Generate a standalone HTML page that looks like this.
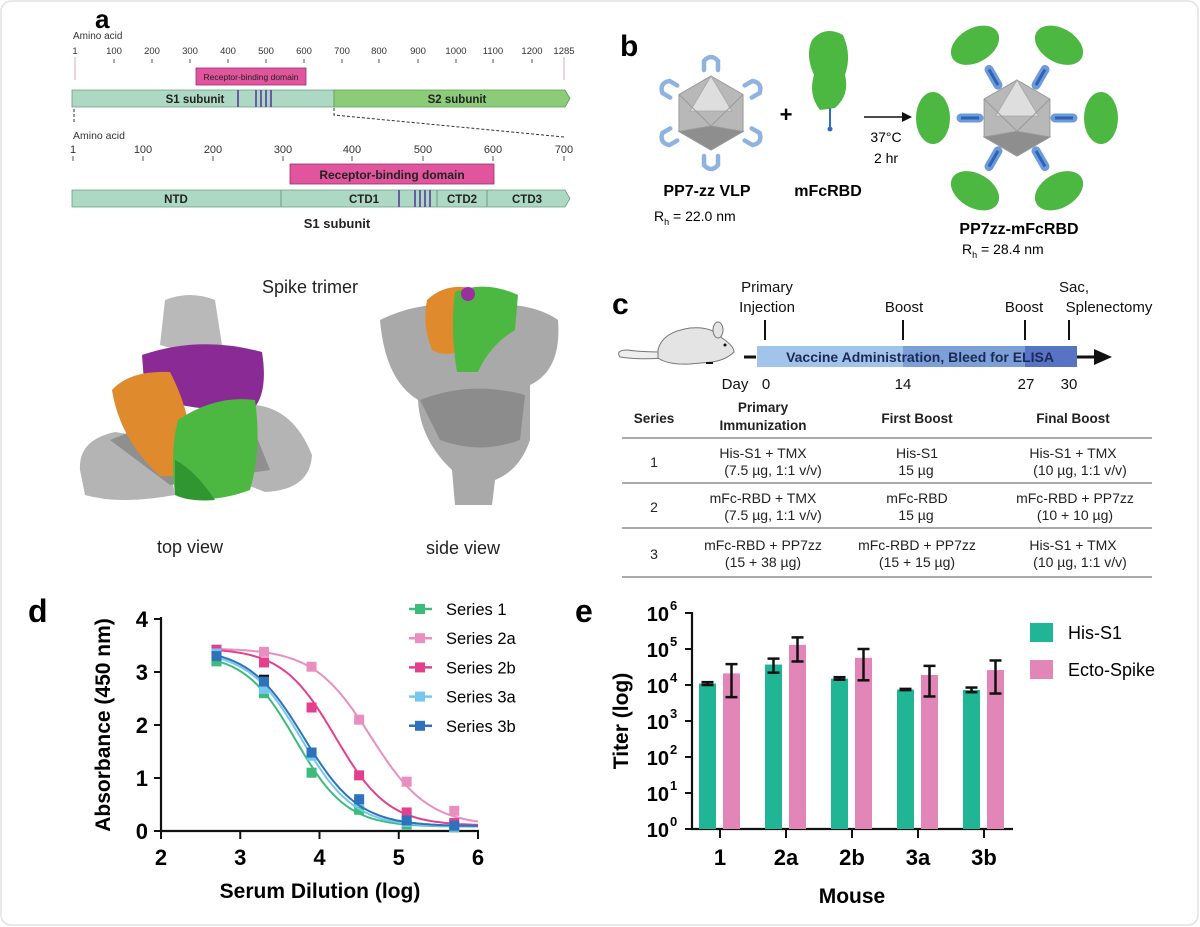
<!DOCTYPE html>
<html><head><meta charset="utf-8"><style>
html,body{margin:0;padding:0;background:#fff}
svg{display:block;font-family:"Liberation Sans",Arial,sans-serif}
.b{font-weight:bold}
</style></head><body>
<svg id="s" width="1200" height="927" viewBox="0 0 1200 927" xmlns="http://www.w3.org/2000/svg">
<rect x="1" y="1" width="1197" height="924" rx="10" fill="#fff" stroke="#e2e2e2" stroke-width="1.5"/>

<text x="95" y="28" class="b" font-size="26">a</text>
<text x="73" y="39" font-size="10" fill="#333">Amino acid</text>
<g font-size="9.5" fill="#333" text-anchor="middle" id="topticks"></g>
<line x1="75" y1="57" x2="75" y2="80" stroke="#e6c4d4" stroke-width="1.5"/>
<line x1="564" y1="57" x2="564" y2="80" stroke="#e6c4d4" stroke-width="1.5"/>
<rect x="196" y="68" width="110" height="17" fill="#e0559e" stroke="#9a2d66" stroke-width="0.8"/>
<text x="251" y="80" font-size="8.5" text-anchor="middle" fill="#222">Receptor-binding domain</text>
<path d="M72 90 H334 V107 H72 Z" fill="#acd8c4" stroke="#6e9a86" stroke-width="0.8"/>
<path d="M334 90 H565 L570 98.5 L565 107 H334 Z" fill="#8ccc78" stroke="#5d9a50" stroke-width="0.8"/>
<g stroke="#5a3d99" stroke-width="1.6"><line x1="238" y1="90" x2="238" y2="107"/><line x1="256" y1="90" x2="256" y2="107"/><line x1="261" y1="90" x2="261" y2="107"/><line x1="266" y1="90" x2="266" y2="107"/><line x1="271" y1="90" x2="271" y2="107"/></g>
<text x="195" y="103" class="b" font-size="11.5" text-anchor="middle" fill="#222">S1 subunit</text>
<text x="457" y="103" class="b" font-size="11.5" text-anchor="middle" fill="#222">S2 subunit</text>
<line x1="74" y1="109" x2="74" y2="124" stroke="#333" stroke-dasharray="3,2"/>
<path d="M334 108 V115 L564 137" fill="none" stroke="#333" stroke-dasharray="3,2"/>
<text x="73" y="139" font-size="10.5" fill="#333">Amino acid</text>
<g font-size="11" fill="#333" text-anchor="middle" id="botticks"></g>
<rect x="290" y="164" width="204" height="20" fill="#e0559e" stroke="#9a2d66" stroke-width="0.8"/>
<text x="392" y="179" class="b" font-size="12" text-anchor="middle" fill="#222">Receptor-binding domain</text>
<path d="M72 190 H565 L570 198.5 L565 207 H72 Z" fill="#acd8c4" stroke="#6e9a86" stroke-width="0.8"/>
<g stroke="#6e9a86" stroke-width="1"><line x1="281" y1="190" x2="281" y2="207"/><line x1="437" y1="190" x2="437" y2="207"/><line x1="487" y1="190" x2="487" y2="207"/></g>
<g stroke="#5a3d99" stroke-width="1.6"><line x1="399" y1="190" x2="399" y2="207"/><line x1="415" y1="190" x2="415" y2="207"/><line x1="420" y1="190" x2="420" y2="207"/><line x1="425" y1="190" x2="425" y2="207"/><line x1="430" y1="190" x2="430" y2="207"/></g>
<g class="b" font-size="11.5" text-anchor="middle" fill="#222">
<text x="176" y="203">NTD</text><text x="364" y="203">CTD1</text><text x="462" y="203">CTD2</text><text x="527" y="203">CTD3</text></g>
<text x="337" y="228" class="b" font-size="13" text-anchor="middle" fill="#222">S1 subunit</text>

<text x="310" y="293" font-size="18" text-anchor="middle" fill="#222">Spike trimer</text>
<g>
<path d="M165 300 Q190 290 215 300 L222 345 Q190 355 160 345 Z" fill="#b9b9b9"/>
<path d="M80 470 Q78 440 115 432 L165 440 L175 495 Q120 505 85 495 Z" fill="#b4b4b4"/>
<path d="M240 405 Q290 400 312 455 Q310 490 265 492 L235 480 Z" fill="#b4b4b4"/>
<path d="M110 440 L160 420 L250 420 L270 470 L170 485 Z" fill="#8f8f8f"/>
<path d="M142 355 Q200 335 262 352 Q268 390 255 407 Q200 415 145 395 Z" fill="#8a2a94"/>
<path d="M112 390 Q130 370 170 372 Q195 420 192 470 Q180 478 160 476 Q120 440 112 390 Z" fill="#e08a2e"/>
<path d="M178 420 Q215 395 255 400 Q262 450 250 490 Q210 505 175 495 Q170 450 178 420 Z" fill="#4cb842"/>
<path d="M175 460 Q195 470 215 500 Q190 502 175 495 Z" fill="#2f9632"/>
</g>
<g>
<path d="M380 320 Q420 300 470 305 Q530 300 558 320 Q562 370 530 385 L530 440 Q520 470 495 480 L492 505 L455 505 L452 470 Q420 440 418 400 Q385 380 380 320 Z" fill="#a9a9a9"/>
<path d="M420 400 Q470 380 525 395 L520 440 Q480 455 440 440 Z" fill="#8c8c8c"/>
<path d="M427 300 Q445 283 470 288 L468 345 Q450 360 432 350 Q422 325 427 300 Z" fill="#e08a2e"/>
<path d="M455 292 Q485 280 518 295 L515 330 Q490 345 478 372 L457 372 Q450 330 455 292 Z" fill="#4cb842"/>
<circle cx="468" cy="294" r="7" fill="#9a2fa0"/>
</g>
<text x="190" y="553" font-size="18" text-anchor="middle" fill="#222">top view</text>
<text x="463" y="554" font-size="18" text-anchor="middle" fill="#222">side view</text>

<text x="620" y="56" class="b" font-size="30">b</text>
<g id="vlp1"></g>
<text x="786" y="122" class="b" font-size="22" text-anchor="middle">+</text>
<g>
<path d="M812 40 Q825 25 843 35 Q852 55 845 75 Q850 95 835 108 L820 110 Q808 95 814 75 Q805 55 812 40 Z" fill="#4cb842"/>
<line x1="830" y1="108" x2="830" y2="128" stroke="#2f6fbf" stroke-width="2"/>
<circle cx="830" cy="129" r="2.5" fill="#2f6fbf"/>
</g>
<g id="vlp2"></g>
<line x1="864" y1="117" x2="904" y2="117" stroke="#111" stroke-width="1.5"/>
<path d="M912 117 L902 112 L902 122 Z" fill="#111"/>
<text x="886" y="142" font-size="14" text-anchor="middle">37°C</text>
<text x="886" y="163" font-size="14" text-anchor="middle">2 hr</text>
<text x="707" y="196" class="b" font-size="16" text-anchor="middle">PP7-zz VLP</text>
<text x="654" y="221" font-size="14">R<tspan font-size="9" dy="4">h</tspan><tspan dy="-4"> = 22.0 nm</tspan></text>
<text x="828" y="196" class="b" font-size="16" text-anchor="middle">mFcRBD</text>
<text x="1019" y="234" class="b" font-size="16" text-anchor="middle">PP7zz-mFcRBD</text>
<text x="962" y="254" font-size="14">R<tspan font-size="9" dy="4">h</tspan><tspan dy="-4"> = 28.4 nm</tspan></text>

<text x="612" y="314" class="b" font-size="30">c</text>
<g font-size="15" text-anchor="middle" fill="#111">
<text x="767" y="292">Primary</text><text x="767" y="312">Injection</text>
<text x="904" y="312">Boost</text><text x="1024" y="312">Boost</text>
<text x="1059" y="292" text-anchor="start">Sac,</text><text x="1109" y="312">Splenectomy</text>
<text x="735" y="389">Day</text><text x="766" y="389">0</text><text x="903" y="389">14</text><text x="1026" y="389">27</text><text x="1069" y="389">30</text>
</g>
<g stroke="#111" stroke-width="2"><line x1="765" y1="320" x2="765" y2="340"/><line x1="903" y1="320" x2="903" y2="340"/><line x1="1025" y1="320" x2="1025" y2="340"/><line x1="1069" y1="320" x2="1069" y2="340"/></g>
<line x1="744" y1="357" x2="756" y2="357" stroke="#111" stroke-width="3"/>
<rect x="757" y="346" width="146" height="21" fill="#a3c4ea"/>
<rect x="903" y="346" width="122" height="21" fill="#7d9fd8"/>
<rect x="1025" y="346" width="52" height="21" fill="#5673c4"/>
<line x1="1077" y1="357" x2="1098" y2="357" stroke="#111" stroke-width="3"/>
<path d="M1112 357 L1094 349 L1094 365 Z" fill="#111"/>
<text x="920" y="362" class="b" font-size="14" text-anchor="middle" fill="#1b2a55">Vaccine Administration, Bleed for ELISA</text>
<g stroke="#777" stroke-width="1">
<path d="M660 352 Q640 352 628 350 Q615 350 620 357 Q640 360 662 358" fill="#eee"/>
<path d="M658 350 Q662 332 690 328 Q712 326 722 338 Q734 346 734 352 Q726 360 712 362 L690 364 Q668 365 658 358 Z" fill="#e4e4e4"/>
<ellipse cx="718" cy="330" rx="5" ry="8" fill="#e4e4e4"/>
</g>
<circle cx="725" cy="345" r="1.5" fill="#111"/>
<line x1="706" y1="363" x2="713" y2="363" stroke="#111" stroke-width="2"/>
<g class="b" font-size="13.5" text-anchor="middle" fill="#222">
<text x="654" y="423">Series</text><text x="763" y="412">Primary</text><text x="763" y="430">Immunization</text>
<text x="917" y="423">First Boost</text><text x="1073" y="423">Final Boost</text></g>
<g stroke="#aaa" stroke-width="2"><line x1="622" y1="438" x2="1152" y2="438"/><line x1="622" y1="483" x2="1152" y2="483"/><line x1="622" y1="528" x2="1152" y2="528"/><line x1="622" y1="577" x2="1152" y2="577"/></g>
<g font-size="14" text-anchor="middle" fill="#222">
<text x="654" y="467">1</text><text x="763" y="458">His-S1 + TMX</text><text x="773" y="475">(7.5 µg, 1:1 v/v)</text>
<text x="917" y="458">His-S1</text><text x="916" y="475">15 µg</text>
<text x="1073" y="458">His-S1 + TMX</text><text x="1080" y="475">(10 µg, 1:1 v/v)</text>
<text x="654" y="512">2</text><text x="763" y="503">mFc-RBD + TMX</text><text x="773" y="520">(7.5 µg, 1:1 v/v)</text>
<text x="917" y="503">mFc-RBD</text><text x="916" y="520">15 µg</text>
<text x="1075" y="503">mFc-RBD + PP7zz</text><text x="1075" y="520">(10 + 10 µg)</text>
<text x="654" y="559">3</text><text x="763" y="550">mFc-RBD + PP7zz</text><text x="763" y="567">(15 + 38 µg)</text>
<text x="917" y="550">mFc-RBD + PP7zz</text><text x="917" y="567">(15 + 15 µg)</text>
<text x="1073" y="550">His-S1 + TMX</text><text x="1080" y="567">(10 µg, 1:1 v/v)</text>
</g>

<text x="28" y="622" class="b" font-size="32">d</text>
<g id="pd"></g>
<text transform="translate(110,725) rotate(-90)" class="b" font-size="21" text-anchor="middle">Absorbance (450 nm)</text>
<text x="320" y="898" class="b" font-size="21" text-anchor="middle">Serum Dilution (log)</text>

<text x="575" y="622" class="b" font-size="32">e</text>
<g id="pe"></g>
<text transform="translate(628,721) rotate(-90)" class="b" font-size="21" text-anchor="middle">Titer (log)</text>
<text x="852" y="903" class="b" font-size="21" text-anchor="middle">Mouse</text>
<rect x="1030" y="623" width="23" height="19" fill="#20b594"/>
<rect x="1030" y="660" width="23" height="19" fill="#e286b8"/>
<text x="1068" y="639" font-size="18">His-S1</text>
<text x="1068" y="676" font-size="18">Ecto-Spike</text>
</svg>
<script>
const NS="http://www.w3.org/2000/svg";
function el(p,t,a,txt){const e=document.createElementNS(NS,t);for(const k in a)e.setAttribute(k,a[k]);if(txt!==undefined)e.textContent=txt;p.appendChild(e);return e;}
let g=document.getElementById('topticks');
[[1,75],[100,114],[200,152],[300,190],[400,228],[500,266],[600,304],[700,342],[800,379],[900,418],[1000,456],[1100,493],[1200,532],[1285,564]].forEach(([l,x])=>{el(g,'text',{x:x,y:54},l);el(g,'line',{x1:x,y1:59,x2:x,y2:63,stroke:'#555'});});
g=document.getElementById('botticks');
[[1,73],[100,143],[200,213],[300,283],[400,352],[500,423],[600,493],[700,564]].forEach(([l,x])=>{el(g,'text',{x:x,y:153},l);el(g,'line',{x1:x,y1:156,x2:x,y2:161,stroke:'#555'});});
function ico(p,cx,cy,r){
 const pts=[];for(let i=0;i<6;i++){const a=Math.PI/180*(-90+60*i);pts.push([cx+r*Math.cos(a),cy+r*Math.sin(a)]);}
 el(p,'polygon',{points:pts.map(q=>q.join(',')).join(' '),fill:'#b8b8b8',stroke:'#999','stroke-width':1});
 el(p,'polygon',{points:`${pts[0]} ${pts[1][0]-r*0.3},${cy-r*0.05} ${pts[5][0]+r*0.3},${cy-r*0.05}`,fill:'#dedede',stroke:'#aaa'});
 el(p,'polygon',{points:`${pts[2]} ${pts[3]} ${pts[4]} ${cx},${cy+r*0.35}`,fill:'#8e8e8e',stroke:'#999'});
 el(p,'line',{x1:pts[1][0],y1:pts[1][1],x2:cx,y2:cy+r*0.35,stroke:'#999'});
 el(p,'line',{x1:pts[5][0],y1:pts[5][1],x2:cx,y2:cy+r*0.35,stroke:'#999'});
}
let v1=document.getElementById('vlp1');
[-60,0,60,120,180,240].forEach(a0=>{const a=(a0-30)*Math.PI/180;const x=711+50*Math.cos(a),y=113+50*Math.sin(a);
 el(v1,'path',{d:`M-7,-7 V2 Q0,10 7,2 V-7`,transform:`translate(${x},${y}) rotate(${a0-30-90})`,fill:'none',stroke:'#8fb3e0','stroke-width':4.5,'stroke-linecap':'round'});});
ico(v1,711,113,37);
let v2=document.getElementById('vlp2');
[-120,-60,0,60,120,180].forEach(a0=>{const a=a0*Math.PI/180;
 const x1=1017+38*Math.cos(a),y1=118+38*Math.sin(a),x2=1017+56*Math.cos(a),y2=118+56*Math.sin(a);
 el(v2,'line',{x1,y1,x2,y2,stroke:'#6d9ad8','stroke-width':9,'stroke-linecap':'round'});
 el(v2,'line',{x1,y1,x2,y2,stroke:'#2c63b8','stroke-width':3});
 const gx=1017+84*Math.cos(a),gy=118+84*Math.sin(a);
 el(v2,'ellipse',{cx:gx,cy:gy,rx:26,ry:17,transform:`rotate(${a0+90} ${gx} ${gy})`,fill:'#4cb842'});
});
ico(v2,1017,118,38);
const pd=document.getElementById('pd');
const X=v=>161+(v-2)*79.25, Y=v=>831-v*53;
el(pd,'line',{x1:161,y1:617,x2:161,y2:832,stroke:'#111','stroke-width':2.2});
el(pd,'line',{x1:160,y1:831,x2:479,y2:831,stroke:'#111','stroke-width':2.2});
for(let i=0;i<=4;i++){el(pd,'line',{x1:154,y1:Y(i),x2:161,y2:Y(i),stroke:'#111','stroke-width':2});el(pd,'text',{x:148,y:Y(i)+8,'font-size':22,'font-weight':'bold','text-anchor':'end'},i);}
for(let i=2;i<=6;i++){el(pd,'line',{x1:X(i),y1:831,x2:X(i),y2:839,stroke:'#111','stroke-width':2});el(pd,'text',{x:X(i),y:865,'font-size':22,'font-weight':'bold','text-anchor':'middle'},i);}
const xs=[2.7,3.3,3.9,4.5,5.1,5.7];
const S=[
 ['Series 1','#3dbb7a',[3.35,0.08,3.7,1.35],[3.2,2.6,1.1,0.4,0.12,0.07]],
 ['Series 2a','#e88fbf',[3.45,0.1,4.65,1.2],[3.42,3.38,3.1,2.1,0.93,0.38]],
 ['Series 2b','#e33f8d',[3.45,0.1,4.2,1.3],[3.42,3.18,2.33,1.05,0.35,0.15]],
 ['Series 3a','#74c8ee',[3.4,0.08,3.77,1.3],[3.35,2.68,1.42,0.55,0.17,0.08]],
 ['Series 3b','#2f72bc',[3.45,0.09,3.8,1.25],[3.3,2.82,1.48,0.6,0.2,0.1]]];
S.forEach(([n,c,p,d],k)=>{
 let pts=[];for(let x=2.7;x<=6.001;x+=0.03){const y=p[1]+(p[0]-p[1])/(1+Math.pow(10,(x-p[2])*p[3]));pts.push(X(x).toFixed(1)+','+Y(y).toFixed(1));}
 el(pd,'polyline',{points:pts.join(' '),fill:'none',stroke:c,'stroke-width':2});
 xs.forEach((x,i)=>el(pd,'rect',{x:X(x)-5,y:Y(d[i])-5,width:10,height:10,fill:c}));
 const ly=609+k*29.2;
 el(pd,'line',{x1:409,y1:ly,x2:432,y2:ly,stroke:c,'stroke-width':2.5});
 el(pd,'rect',{x:415,y:ly-5,width:10,height:10,fill:c});
 el(pd,'text',{x:446,y:ly+6,'font-size':16.5},n);
});
el(pd,'line',{x1:X(3.3)-5,y1:Y(2.93),x2:X(3.3)+5,y2:Y(2.93),stroke:'#111','stroke-width':2});
const pe=document.getElementById('pe');
const LY=v=>829-Math.log10(v)*36;
el(pe,'line',{x1:692,y1:612,x2:692,y2:830,stroke:'#111','stroke-width':2.2});
el(pe,'line',{x1:691,y1:829,x2:1013,y2:829,stroke:'#111','stroke-width':2.2});
for(let i=0;i<=6;i++){const y=829-i*36;el(pe,'line',{x1:685,y1:y,x2:692,y2:y,stroke:'#111','stroke-width':2});
 el(pe,'text',{x:669,y:y+8,'font-size':20,'font-weight':'bold','text-anchor':'end'},'10');
 el(pe,'text',{x:670,y:y-3,'font-size':13,'font-weight':'bold'},i);}
const tx=[720,786,852,918,984],lab=['1','2a','2b','3a','3b'];
const gv=[1.1e4,3.7e4,1.5e4,7.5e3,7.3e3],pv=[2.1e4,1.3e5,5.7e4,1.9e4,2.6e4];
const ge=[[1.0e4,1.2e4],[2.2e4,5.4e4],[1.4e4,1.65e4],[7.2e3,7.8e3],[6.3e3,8.5e3]];
const pe2=[[4.6e3,3.8e4],[4.5e4,2.1e5],[1.35e4,1.0e5],[4.8e3,3.4e4],[5.8e3,4.8e4]];
tx.forEach((x,i)=>{
 el(pe,'rect',{x:x-21,y:LY(gv[i]),width:17,height:829-LY(gv[i]),fill:'#20b594'});
 el(pe,'rect',{x:x+3,y:LY(pv[i]),width:17,height:829-LY(pv[i]),fill:'#e286b8'});
 [[x-12.5,ge[i]],[x+11.5,pe2[i]]].forEach(([cx,e])=>{const a=LY(e[1]),b=LY(e[0]);
  el(pe,'line',{x1:cx,y1:a,x2:cx,y2:b,stroke:'#111','stroke-width':2.5});
  el(pe,'line',{x1:cx-6,y1:a,x2:cx+6,y2:a,stroke:'#111','stroke-width':2.5});
  el(pe,'line',{x1:cx-6,y1:b,x2:cx+6,y2:b,stroke:'#111','stroke-width':2.5});});
 el(pe,'line',{x1:x,y1:829,x2:x,y2:838,stroke:'#111','stroke-width':2});
 el(pe,'text',{x:x,y:865,'font-size':22,'font-weight':'bold','text-anchor':'middle'},lab[i]);
});
</script>
</body></html>
